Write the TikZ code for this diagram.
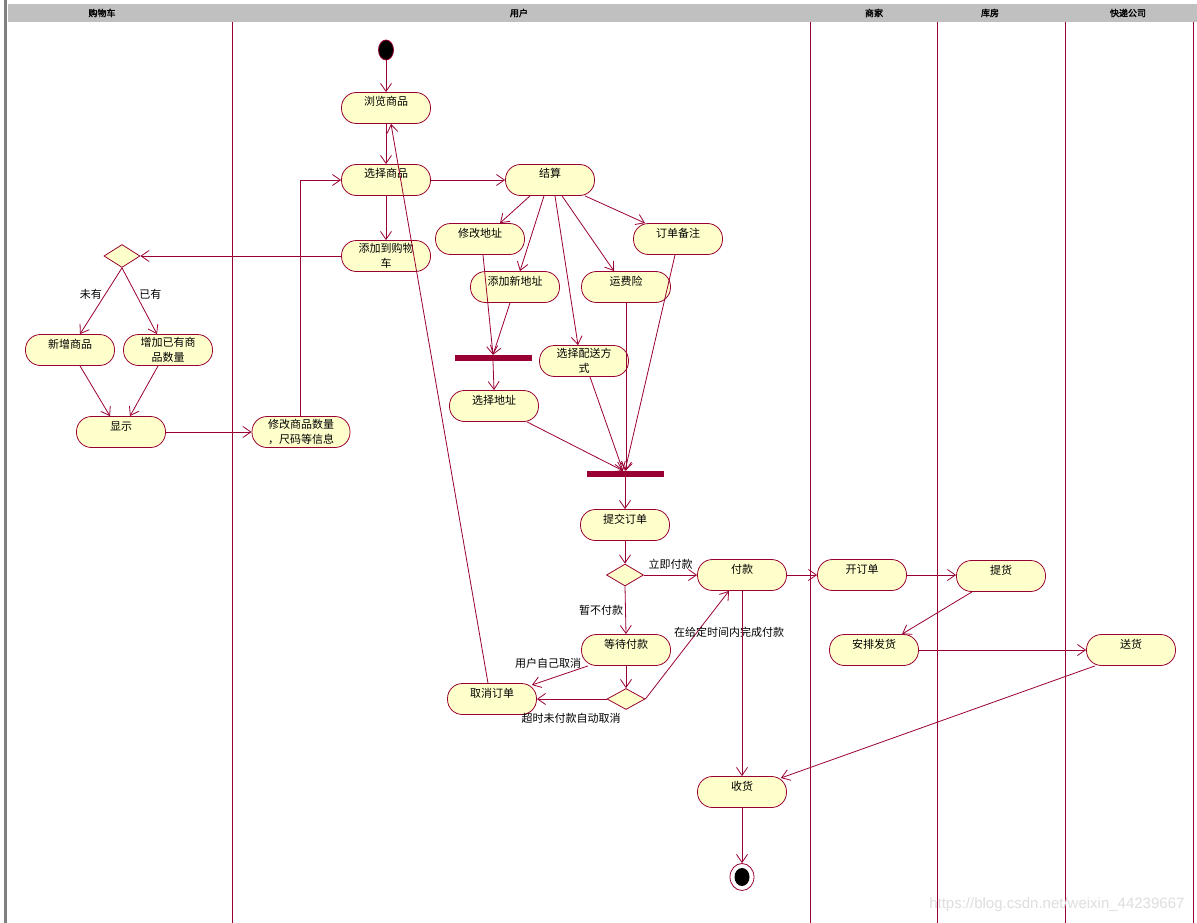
\documentclass[tikz,border=0pt]{standalone}
\usepackage{fontspec}
\setmainfont{Noto Sans CJK SC}
\newfontfamily\hdrfont{Noto Sans CJK SC}[FakeBold=2]
\newfontfamily\wmfont{Liberation Sans}
\usetikzlibrary{arrows.meta,shapes.geometric}
\definecolor{lc}{HTML}{990033}
\definecolor{actfill}{HTML}{FFFFCC}
\definecolor{hdrgray}{HTML}{C0C0C0}
\tikzset{
  act/.style={draw=lc, fill=actfill, line width=0.8pt, rounded corners=15pt,
    minimum width=89pt, minimum height=31pt, inner sep=1pt, align=center,
    font=\fontsize{11}{15}\selectfont},
  oneline/.style={text height=8pt, text depth=12pt},
  dec/.style={diamond, draw=lc, fill=actfill, line width=0.8pt,
    minimum width=37pt, minimum height=22pt, inner sep=0pt},
  syncbar/.style={rectangle, fill=lc, minimum width=77pt, minimum height=6pt, inner sep=0pt},
  flow/.style={draw=lc, line width=0.8pt, -{Straight Barb[length=8pt,width=11pt]}},
  lane/.style={draw=lc, line width=0.9pt},
  elabel/.style={font=\fontsize{11}{13}\selectfont, inner sep=1pt},
  hdr/.style={font=\hdrfont\fontsize{9}{10}\selectfont},
}
\begin{document}
\begin{tikzpicture}[x=1pt, y=-1pt]
\useasboundingbox (0,0) rectangle (1197,923);
\fill[white] (0,0) rectangle (1197,923);

% swimlane header and separators
\fill[hdrgray] (8,4) rectangle (1197,22);
\fill[gray] (4,0) rectangle (6.5,923);
\foreach \lx in {232,810,937,1065,1193} \draw[lane] (\lx,22) -- (\lx,923);
\node[hdr] (h1) at (102,13) {购物车};
\node[hdr] (h2) at (519,13) {用户};
\node[hdr] (h3) at (874,13) {商家};
\node[hdr] (h4) at (990,13) {库房};
\node[hdr] (h5) at (1128,13) {快递公司};

% initial and final states
\node[ellipse, draw=lc, fill=black, line width=0.8pt, minimum width=15pt, minimum height=20pt, inner sep=0pt] (start) at (386,50) {};
\node[ellipse, draw=lc, line width=0.8pt, minimum width=24pt, minimum height=27pt, inner sep=0pt] (end) at (742,877) {};
\node[ellipse, fill=black, minimum width=15pt, minimum height=18pt, inner sep=0pt] (endin) at (742,877) {};

% activities: user lane
\node[act, oneline] (browse) at (386,108) {浏览商品};
\node[act, oneline] (select) at (386,180) {选择商品};
\node[act] (addcart) at (386,256) {添加到购物\\车};
\node[act, oneline] (settle) at (550,180) {结算};
\node[act, oneline] (modaddr) at (480,239) {修改地址};
\node[act, oneline] (note) at (678,239) {订单备注};
\node[act, oneline] (newaddr) at (515,287) {添加新地址};
\node[act, oneline] (insur) at (626,287) {运费险};
\node[act] (ship) at (584,361) {选择配送方\\式};
\node[syncbar] (bar1) at (493,358) {};
\node[act, oneline] (seladdr) at (494,406) {选择地址};
\node[syncbar] (bar2) at (625,474) {};
\node[act, oneline] (submit) at (625,525) {提交订单};
\node[dec] (d1) at (625,575) {};
\node[act, oneline] (pay) at (742,575) {付款};
\node[act, oneline] (wait) at (626,650) {等待付款};
\node[dec, minimum width=38pt, minimum height=21pt] (d2) at (626,699) {};
\node[act, oneline] (cancel) at (492,699) {取消订单};
\node[act, oneline] (recv) at (742,792) {收货};
\node[act, minimum width=98pt] (modify) at (301,432) {修改商品数量\\，尺码等信息};

% activities: cart lane
\node[dec, minimum width=36pt, minimum height=23pt] (dc) at (122,256) {};
\node[act, oneline] (newitem) at (70,350) {新增商品};
\node[act] (incitem) at (168,350) {增加已有商\\品数量};
\node[act, oneline] (show) at (121,432) {显示};

% activities: merchant, warehouse, courier lanes
\node[act, oneline] (order) at (862,575) {开订单};
\node[act, oneline] (pick) at (1001,576) {提货};
\node[act, oneline] (arrange) at (874,650) {安排发货};
\node[act, oneline] (deliver) at (1131,650) {送货};

% transitions
\draw[flow] (start.south) -- (browse.north);
\draw[flow] (browse.south) -- (select.north);
\draw[flow] ([xshift=-4pt]cancel.north) -- ([xshift=5pt]browse.south);
\draw[flow] (select.south) -- (addcart.north);
\draw[flow] (select.east) -- (settle.west);
\draw[flow] (addcart.west) -- (dc.east);
\draw[flow] (dc.south) -- node[elabel, pos=0.4, left=2pt] {未有} ([xshift=10pt]newitem.north);
\draw[flow] (dc.south) -- node[elabel, pos=0.4, right=2pt] {已有} ([xshift=-11pt]incitem.north);
\draw[flow] ([xshift=10pt]newitem.south) -- ([xshift=-11pt]show.north);
\draw[flow] ([xshift=-10pt]incitem.south) -- ([xshift=9pt]show.north);
\draw[flow] (show.east) -- (modify.west);
\draw[flow] ([xshift=-1pt]modify.north) |- (select.west);

\draw[flow] ([xshift=-20pt]settle.south) -- ([xshift=20pt]modaddr.north);
\draw[flow] ([xshift=-6pt]settle.south) -- ([xshift=5pt]newaddr.north);
\draw[flow] ([xshift=5pt]settle.south) -- ([xshift=-6pt]ship.north);
\draw[flow] ([xshift=12pt]settle.south) -- ([xshift=-12pt]insur.north);
\draw[flow] ([xshift=35pt]settle.south) -- ([xshift=-33pt]note.north);

\draw[flow] ([xshift=3pt]modaddr.south) -- (bar1.north);
\draw[flow] ([xshift=-5pt]newaddr.south) -- (bar1.north);
\draw[flow] (bar1.south) -- (seladdr.north);
\draw[flow] ([xshift=33pt]seladdr.south) -- ([xshift=-2pt]bar2.north);
\draw[flow] ([xshift=6pt]ship.south) -- ([xshift=-2pt]bar2.north);
\draw[flow] (insur.south) -- ([xshift=1pt]bar2.north);
\draw[flow] ([xshift=-3pt]note.south) -- (bar2.north);
\draw[flow] (bar2.south) -- (submit.north);
\draw[flow] (submit.south) -- (d1.north);

\draw[flow] (d1.east) -- node[elabel, pos=0.5, above=4pt] {立即付款} (pay.west);
\draw[flow] (d1.south) -- node[elabel, pos=0.5, left=1pt] {暂不付款} (wait.north);
\draw[flow] ([xshift=-38pt]wait.south) -- ([xshift=-5pt,yshift=14pt]cancel.east);
\node[elabel] (cancellbl) at (548,663) {用户自己取消};
\draw[flow] (wait.south) -- (d2.north);
\draw[flow] (d2.west) -- (cancel.east);
\node[elabel] (timeoutlbl) at (571,718) {超时未付款自动取消};
\draw[flow] (d2.east) -- ([xshift=-13pt]pay.south);
\node[elabel, anchor=west] (paylbl) at (673,632) {在给定时间内完成付款};
\draw[flow] (pay.east) -- (order.west);
\draw[flow] (pay.south) -- (recv.north);
\draw[flow] (order.east) -- (pick.west |- order.east);
\draw[flow] ([xshift=-29pt]pick.south) -- ([xshift=28pt]arrange.north);
\draw[flow] (arrange.east) -- (deliver.west);
\draw[flow] ([xshift=-36pt]deliver.south) -- ([xshift=-6pt,yshift=14pt]recv.east);
\draw[flow] (recv.south) -- (end.north);

% site watermark
\node[font=\wmfont\fontsize{15}{17}\selectfont, text=black!13, anchor=east] (wm) at (1188,905) {https://blog.csdn.net/weixin\_44239667};
\end{tikzpicture}
\end{document}
